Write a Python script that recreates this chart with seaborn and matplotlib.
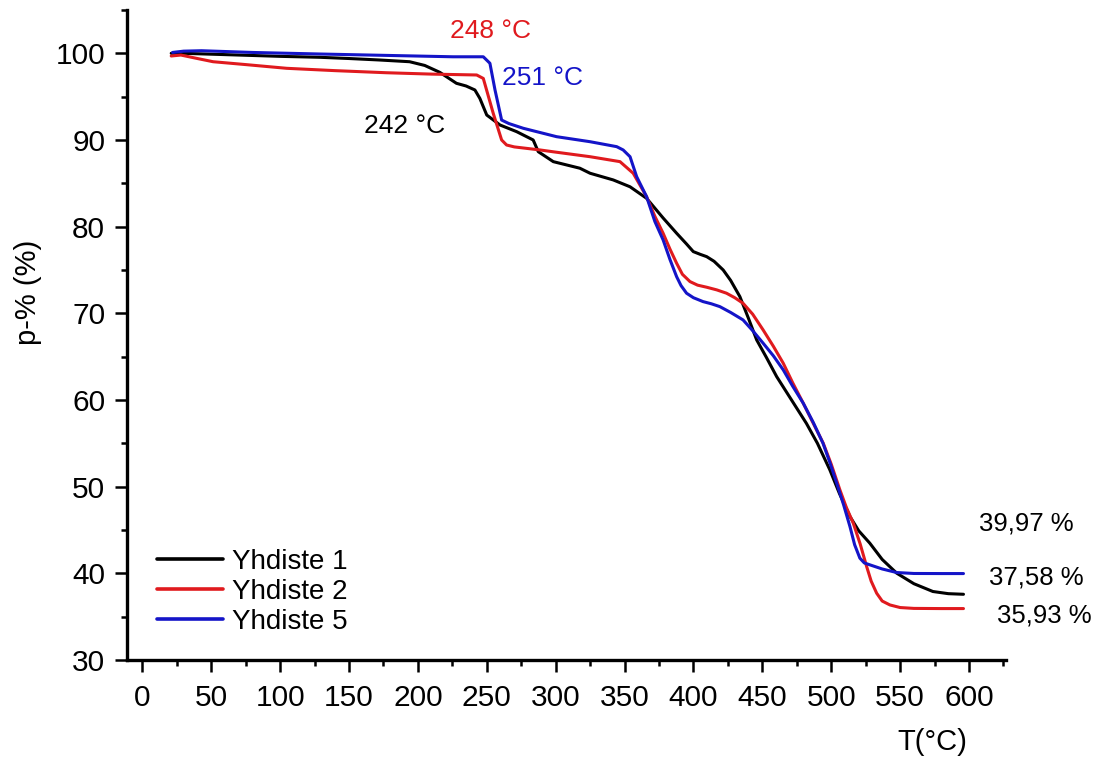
import matplotlib
matplotlib.use("Agg")
import matplotlib.pyplot as plt
from matplotlib.ticker import MultipleLocator
import pandas as pd
import seaborn as sns

# Thermogravimetric curves: residual mass p-% versus temperature T (°C)
t_yhdiste1 = [21, 30, 50, 80, 100, 129, 150, 172, 194, 205, 216, 228, 235, 241.4, 245,
              250, 259.6, 271.7, 283.7, 287.4, 298.3, 317.6, 325, 341.8, 354, 366,
              378, 387.8, 395, 399.9, 405, 409.6, 415, 421.6, 427, 433.7, 440, 445.9,
              453, 460.4, 470, 482, 490, 499, 506, 513.6, 520, 528, 537, 547.5, 560,
              573.8, 585, 596]
p_yhdiste1 = [100.0, 100.0, 99.9, 99.75, 99.65, 99.54, 99.4, 99.23, 99.03, 98.6, 97.8,
              96.54, 96.23, 95.77, 94.8, 92.88, 91.73, 90.96, 90.0, 88.65, 87.5, 86.74,
              86.16, 85.39, 84.6, 83.27, 81.0, 79.24, 78.0, 77.12, 76.8, 76.54, 76.0,
              75.0, 73.8, 71.93, 69.4, 66.93, 64.9, 62.7, 60.3, 57.3, 55.0, 51.94, 49.2,
              46.55, 44.9, 43.48, 41.6, 40.02, 38.8, 37.9, 37.65, 37.58]

t_yhdiste2 = [21, 28, 40, 51.4, 75, 104.8, 140, 177, 210, 242.7, 247.5, 254.7, 260.8,
              264.4, 270, 288.6, 300, 325, 346.7, 356.3, 361.2, 366, 372, 378, 383,
              387.8, 392, 397.5, 403, 409.6, 417, 424, 430, 436, 443, 450.6, 458, 465.2,
              472, 479.7, 487, 494.2, 500, 506.3, 511, 516, 521, 525.7, 529, 533, 537,
              542.6, 550, 560, 580, 596]
p_yhdiste2 = [99.69, 99.8, 99.4, 99.03, 98.7, 98.27, 98.0, 97.76, 97.6, 97.5, 97.1,
              93.08, 90.0, 89.42, 89.2, 88.85, 88.6, 88.07, 87.5, 86.16, 84.8, 83.46,
              81.2, 79.24, 77.4, 75.78, 74.5, 73.66, 73.25, 73.01, 72.7, 72.32, 71.8,
              71.16, 69.9, 68.08, 66.2, 64.24, 62.0, 59.63, 57.3, 55.02, 52.6, 49.63,
              47.6, 45.79, 43.4, 40.79, 39.1, 37.7, 36.8, 36.35, 36.05, 35.95, 35.93,
              35.93]

t_yhdiste5 = [22, 30, 43, 80, 129, 180, 225.5, 247.5, 252.3, 256, 260.8, 266, 276.5,
              300.7, 325, 344.3, 349, 354, 358.8, 366, 372, 378, 383, 387.8, 391, 395,
              400, 407, 413, 419.2, 427, 436, 443, 450.6, 458, 465.2, 472, 479.7, 487,
              494, 499, 504, 509, 513.6, 517, 520.8, 524, 528, 537, 547.5, 560, 580,
              596]
p_yhdiste5 = [100.1, 100.25, 100.3, 100.1, 99.92, 99.75, 99.6, 99.6, 98.85, 95.77, 92.3,
              91.9, 91.35, 90.38, 89.8, 89.23, 88.85, 88.07, 85.77, 83.46, 80.6, 78.47,
              76.2, 74.23, 73.2, 72.32, 71.8, 71.35, 71.1, 70.77, 70.1, 69.24, 68.0,
              66.55, 65.1, 63.47, 61.6, 59.63, 57.4, 55.02, 52.8, 50.4, 47.9, 45.4, 43.3,
              41.75, 41.2, 40.98, 40.5, 40.09, 39.98, 39.97, 39.97]

series_names = ["Yhdiste 1", "Yhdiste 2", "Yhdiste 5"]
series_colors = ["#000000", "#e01a1e", "#1414c8"]

onset_labels = ["242 °C", "248 °C", "251 °C"]
residue_labels = ["37,58 %", "35,93 %", "39,97 %"]

x_ticks = list(range(0, 601, 50))
y_ticks = list(range(30, 101, 10))

frames = []
for name, t, p in zip(series_names, [t_yhdiste1, t_yhdiste2, t_yhdiste5],
                      [p_yhdiste1, p_yhdiste2, p_yhdiste5]):
    frames.append(pd.DataFrame({"T": t, "p": p, "näyte": name}))
data = pd.concat(frames, ignore_index=True)

sns.set_style("ticks")
plt.rcParams["font.family"] = ["Liberation Sans", "DejaVu Sans"]
for key in ("text.color", "axes.labelcolor", "xtick.color", "ytick.color",
            "axes.edgecolor"):
    plt.rcParams[key] = "black"

fig = plt.figure(figsize=(10.99, 7.62), dpi=100)
ax = fig.add_axes([0.1153, 0.1339, 0.80, 0.853])

sns.lineplot(data=data, x="T", y="p", hue="näyte", hue_order=series_names,
             palette=dict(zip(series_names, series_colors)), sort=False,
             estimator=None, linewidth=2.2, ax=ax)

ax.set_xlim(-11.3, 626.8)
ax.set_ylim(30, 105)
ax.set_xticks(x_ticks)
ax.set_yticks(y_ticks)
ax.xaxis.set_minor_locator(MultipleLocator(25))
ax.yaxis.set_minor_locator(MultipleLocator(5))

for side in ("top", "right"):
    ax.spines[side].set_visible(False)
for side in ("left", "bottom"):
    ax.spines[side].set_linewidth(2.4)
    ax.spines[side].set_color("black")

ax.tick_params(axis="both", which="major", length=8.5, width=1.8, labelsize=21.5,
               direction="out", colors="black")
ax.tick_params(axis="both", which="minor", length=4, width=1.8, direction="out")
ax.tick_params(axis="x", which="major", pad=8.5)
ax.tick_params(axis="y", which="major", pad=7)

ax.set_xlabel("T(°C)", fontsize=21)
ax.xaxis.set_label_coords(0.916, -0.105)
ax.set_ylabel("p-% (%)", fontsize=21)
ax.yaxis.set_label_coords(-0.096, 0.565)

# onset temperatures of the first mass-loss step
onset_pos = [(190.1, 90.77), (252.9, 101.73), (290.4, 96.34)]
for label, (tx, ty), col in zip(onset_labels, onset_pos, series_colors):
    ax.text(tx, ty, label, color=col, fontsize=19, ha="center", va="baseline")

# residual mass at the end of the run
residue_pos = [(648.8, 38.67), (655.0, 34.33), (641.7, 44.94)]
for label, (tx, ty) in zip(residue_labels, residue_pos):
    ax.text(tx, ty, label, color="black", fontsize=18.5, ha="center", va="baseline",
            clip_on=False)

handles, labels = ax.get_legend_handles_labels()
ax.legend(handles, labels, loc="center left", bbox_to_anchor=(0.0345, 0.1046),
          frameon=False, fontsize=20, borderpad=0, borderaxespad=0,
          handlelength=2.37, handletextpad=0.32, labelspacing=0.15)
for line in ax.get_legend().get_lines():
    line.set_linewidth(2.6)

fig.savefig("out.png", dpi=100)
